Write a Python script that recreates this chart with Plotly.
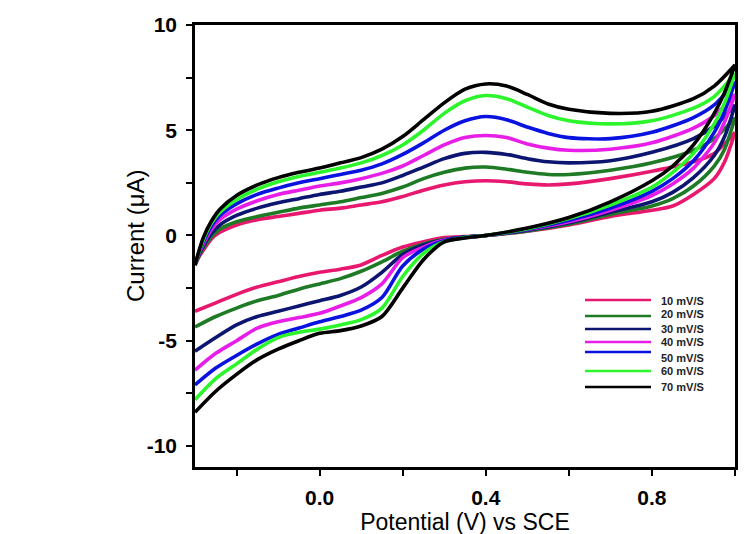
import plotly.graph_objects as go

# Potential grids (V vs SCE)
X_FWD = [-0.3, -0.29, -0.28, -0.26, -0.24, -0.2, -0.15, -0.1, -0.05, 0.0, 0.05, 0.1, 0.15, 0.2,
         0.25, 0.3, 0.35, 0.4, 0.45, 0.5, 0.55, 0.6, 0.7, 0.8, 0.9, 0.95, 1.0]
X_REV = [1.0, 0.975, 0.95, 0.9, 0.85, 0.8, 0.7, 0.6, 0.5, 0.4, 0.35, 0.3, 0.25, 0.2, 0.15, 0.1,
         0.05, 0.0, -0.05, -0.1, -0.15, -0.2, -0.25, -0.3]

LABELS = ["10 mV/S", "20 mV/S", "30 mV/S", "40 mV/S", "50 mV/S", "60 mV/S", "70 mV/S"]
COLORS = ["#e8186e", "#1f7a26", "#0c1670", "#e81ee8", "#0a12e0", "#2cf52c", "#000000"]

# Axis ticks
X_TICKS = [0.0, 0.4, 0.8]
X_TICKTEXT = ["0.0", "0.4", "0.8"]
X_MINOR = [-0.2, 0.2, 0.6, 1.0]
Y_TICKS = [-10, -5, 0, 5, 10]
Y_TICKTEXT = ["-10", "-5", "0", "5", "10"]
Y_MINOR = [-7.5, -2.5, 2.5, 7.5]

# Forward (anodic) scan currents, µA
FWD_10 = [-1.4, -1.0, -0.7, -0.15, 0.15, 0.5, 0.75, 0.9, 1.05, 1.2, 1.3, 1.45, 1.6, 1.85,
          2.15, 2.4, 2.55, 2.6, 2.55, 2.45, 2.4, 2.45, 2.7, 3.05, 3.5, 3.9, 4.9]
FWD_20 = [-1.4, -0.95, -0.6, -0.05, 0.3, 0.65, 0.9, 1.1, 1.3, 1.45, 1.6, 1.8, 2.0, 2.3,
          2.7, 3.0, 3.2, 3.25, 3.15, 3.0, 2.9, 2.9, 3.1, 3.45, 4.05, 4.6, 5.6]
FWD_30 = [-1.4, -0.9, -0.5, 0.1, 0.5, 0.95, 1.3, 1.55, 1.75, 1.95, 2.1, 2.3, 2.5, 2.85,
          3.25, 3.65, 3.9, 3.95, 3.85, 3.65, 3.5, 3.45, 3.55, 3.95, 4.6, 5.2, 6.2]
FWD_40 = [-1.4, -0.85, -0.4, 0.3, 0.75, 1.25, 1.65, 1.95, 2.15, 2.35, 2.5, 2.7, 2.95, 3.3,
          3.8, 4.3, 4.65, 4.75, 4.65, 4.35, 4.15, 4.05, 4.1, 4.4, 5.1, 5.7, 6.7]
FWD_50 = [-1.4, -0.8, -0.3, 0.45, 0.95, 1.5, 1.95, 2.25, 2.5, 2.7, 2.9, 3.1, 3.4, 3.85,
          4.4, 5.0, 5.45, 5.65, 5.5, 5.15, 4.85, 4.65, 4.6, 4.9, 5.6, 6.2, 7.3]
FWD_60 = [-1.4, -0.75, -0.2, 0.6, 1.1, 1.7, 2.2, 2.55, 2.8, 3.0, 3.2, 3.45, 3.8, 4.3,
          5.0, 5.8, 6.4, 6.65, 6.5, 6.1, 5.7, 5.45, 5.3, 5.45, 6.05, 6.6, 7.7]
FWD_70 = [-1.4, -0.7, -0.1, 0.7, 1.25, 1.9, 2.4, 2.75, 3.0, 3.2, 3.45, 3.7, 4.1, 4.7,
          5.5, 6.3, 6.95, 7.2, 7.1, 6.7, 6.25, 6.0, 5.8, 5.9, 6.5, 7.1, 8.1]

# Reverse (cathodic) scan currents, µA
REV_10 = [4.9, 3.5, 2.7, 1.95, 1.4, 1.2, 0.9, 0.5, 0.2, 0.0, -0.05, -0.1, -0.3, -0.55, -0.95,
          -1.4, -1.6, -1.75, -1.95, -2.2, -2.45, -2.8, -3.2, -3.6]
REV_20 = [5.6, 4.1, 3.3, 2.35, 1.75, 1.4, 1.0, 0.55, 0.22, 0.0, -0.08, -0.18, -0.4, -0.75, -1.25,
          -1.7, -2.05, -2.3, -2.55, -2.85, -3.1, -3.45, -3.85, -4.35]
REV_30 = [6.2, 4.7, 3.8, 2.75, 2.05, 1.6, 1.1, 0.6, 0.25, 0.0, -0.08, -0.2, -0.45, -0.9, -1.75,
          -2.45, -2.85, -3.1, -3.35, -3.6, -3.85, -4.25, -4.85, -5.5]
REV_40 = [6.7, 5.4, 4.4, 3.2, 2.45, 1.9, 1.2, 0.65, 0.28, 0.0, -0.1, -0.22, -0.55, -1.05, -2.3,
          -2.95, -3.35, -3.7, -3.9, -4.1, -4.4, -5.0, -5.6, -6.4]
REV_50 = [7.3, 5.9, 4.9, 3.55, 2.7, 2.1, 1.3, 0.72, 0.3, 0.0, -0.08, -0.25, -0.65, -1.45, -2.95,
          -3.55, -3.85, -4.1, -4.4, -4.7, -5.15, -5.7, -6.3, -7.1]
REV_60 = [7.7, 6.3, 5.3, 3.9, 3.0, 2.3, 1.45, 0.8, 0.32, 0.0, -0.1, -0.3, -0.85, -1.95, -3.45,
          -4.0, -4.25, -4.45, -4.6, -4.85, -5.4, -6.1, -6.8, -7.8]
REV_70 = [8.1, 6.8, 5.8, 4.3, 3.3, 2.6, 1.6, 0.85, 0.35, 0.0, -0.12, -0.3, -1.15, -2.5, -3.85,
          -4.3, -4.52, -4.65, -5.0, -5.4, -5.9, -6.6, -7.4, -8.4]

FWD = [FWD_10, FWD_20, FWD_30, FWD_40, FWD_50, FWD_60, FWD_70]
REV = [REV_10, REV_20, REV_30, REV_40, REV_50, REV_60, REV_70]

# Legend placement (pixel rows of the reference legend)
LEG_LINE_Y = [292, 308, 321, 334, 344, 363, 379]
LEG_TEXT_Y = [293, 306, 321, 334, 350, 363, 379]

PLOT_L, PLOT_R, PLOT_T, PLOT_B = 187, 727, 17, 459

fig = go.Figure()
for lab, col, f, r in zip(LABELS, COLORS, FWD, REV):
    fig.add_trace(go.Scatter(
        x=X_FWD + X_REV, y=f + r, mode="lines", name=lab,
        line=dict(color=col, width=3.6, shape="spline", smoothing=0.8),
        showlegend=False, hoverinfo="skip"))

def px_x(p):
    return (p - PLOT_L) / (PLOT_R - PLOT_L)

def px_y(p):
    return (PLOT_B - p) / (PLOT_B - PLOT_T)

for lab, col, ly, ty in zip(LABELS, COLORS, LEG_LINE_Y, LEG_TEXT_Y):
    fig.add_shape(type="line", xref="paper", yref="paper",
                  x0=px_x(577), x1=px_x(643), y0=px_y(ly), y1=px_y(ly),
                  line=dict(color=col, width=2.6))
    fig.add_annotation(xref="paper", yref="paper", x=px_x(651), y=px_y(ty),
                       text=f"<b>{lab}</b>", showarrow=False, xanchor="left", yanchor="middle",
                       font=dict(size=11, color="#222222"))

# y-axis title, placed where the reference has it
fig.add_annotation(xref="paper", yref="paper", x=px_x(127), y=px_y(228),
                   text="Current (μA)", textangle=-90, showarrow=False,
                   xanchor="center", yanchor="middle", font=dict(size=24, color="black"))

fig.update_layout(
    template="none",
    width=750, height=534,
    margin=dict(l=PLOT_L, r=750 - PLOT_R, t=PLOT_T, b=534 - PLOT_B, pad=0),
    paper_bgcolor="white", plot_bgcolor="white",
    font=dict(family="Liberation Sans, Arial, sans-serif", color="black"),
    showlegend=False,
)
axis_common = dict(
    showline=True, linecolor="black", linewidth=2.5, mirror=True,
    ticks="outside", ticklen=6, tickwidth=2.2, tickcolor="black",
    showgrid=False, zeroline=False, automargin=False,
)
fig.update_xaxes(
    range=[-0.3, 1.0], tickmode="array", tickvals=X_TICKS, ticktext=X_TICKTEXT,
    minor=dict(tickvals=X_MINOR, ticks="outside", ticklen=6, tickwidth=2.2, tickcolor="black",
               showgrid=False),
    tickfont=dict(size=21, family="Liberation Sans, Arial", weight="bold"),
    ticklabelstandoff=4,
    title=dict(text="Potential (V) vs SCE", font=dict(size=23), standoff=3),
    **axis_common,
)
fig.update_yaxes(
    range=[-11, 10], tickmode="array", tickvals=Y_TICKS, ticktext=Y_TICKTEXT,
    minor=dict(tickvals=Y_MINOR, ticks="outside", ticklen=6, tickwidth=2.2, tickcolor="black",
               showgrid=False),
    tickfont=dict(size=21, family="Liberation Sans, Arial", weight="bold"),
    ticklabelstandoff=5,
    **axis_common,
)

fig.write_html("out.html")
